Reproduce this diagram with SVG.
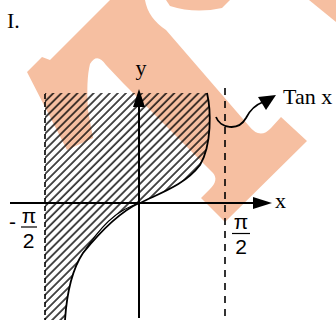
<svg xmlns="http://www.w3.org/2000/svg" width="336" height="320" viewBox="0 0 336 320">
<defs>
<style>
.wm{fill:#F6BFA1}
.ax{stroke:#000;stroke-width:2;fill:none}
.cv{stroke:#000;stroke-width:1.8;fill:none}
.thin{stroke:#000;stroke-width:1.1;fill:none}
.dl{stroke:#000;stroke-width:1.6;fill:none}
.bar{stroke:#000;stroke-width:1.2}
.serif{font-family:"Liberation Serif","Times New Roman",serif;font-size:22px;fill:#000}
.sans{font-family:"Liberation Sans",Arial,sans-serif;font-size:21px;fill:#000}
</style>
<pattern id="hatch" patternUnits="userSpaceOnUse" width="5.7" height="20" patternTransform="rotate(45)">
<line x1="1" y1="-2" x2="1" y2="22" stroke="#000" stroke-width="1.4"/>
</pattern>
</defs>
<g id="watermark">
<path class="wm" d="M27,72 L42,57 L50,60 L110,0 L145,0 Q148,18 166,30 L236,111 L249,126 Q260,140 271,128 L281,117 L307,141 L225,222 L201,198 L210,189 Q219,180 213,173 L123,83 L106,65 Q97,52 90,64 Q86,80 88,110 L93,138 L67,150 Z"/>
<path class="wm" d="M166,0 L230,0 L222,8 Q195,14 170,6 Z"/>
<path class="wm" d="M309,0 L336,0 L336,22 Z"/>
</g>
<g id="hatched-region">
<path d="M45,93 L207,93 C211,110 212,145 200,165 C185,185 160,193 140,203 C115,210 100,228 83,253 C73,268 67,290 65,320 L45,320 Z" fill="url(#hatch)"/>
<path class="thin" d="M140,203 C115,210 100,228 83,253"/>
</g>
<g id="curves">
<path class="cv" d="M207,93 C211,110 212,145 200,165 C185,185 160,193 140,203"/>
<path class="cv" d="M139,203 C120,212 100,232 83,253 C73,268 67,290 65,320"/>
</g>
<g id="asymptotes">
<line class="dl" x1="45" y1="94" x2="45" y2="320" stroke-dasharray="5,3"/>
<line class="dl" x1="225" y1="88" x2="225" y2="320" stroke-dasharray="7,6"/>
</g>
<g id="axes">
<line class="ax" x1="10" y1="203" x2="256" y2="203"/>
<polygon points="253,197 272,203 253,209"/>
<line class="ax" x1="139" y1="318" x2="139" y2="104"/>
<polygon points="133,107 139,89 145,107"/>
</g>
<g id="connectors">
<path class="cv" d="M216,117 C220,128 238,132 246,118 C250,110 255,105 263,102" stroke-width="1.6"/>
<polygon points="276,95 258,97 266,110"/>
</g>
<g id="labels">
<text class="serif" x="7" y="28">I.</text>
<text class="serif" x="141" y="75" text-anchor="middle">y</text>
<text class="serif" x="275" y="208">x</text>
<text class="serif" x="283" y="104">Tan x</text>
<text class="sans" x="9" y="229">-</text>
<text class="sans" x="29" y="223" text-anchor="middle">π</text>
<line class="bar" x1="21" y1="227" x2="37" y2="227"/>
<text class="sans" x="28.5" y="248" text-anchor="middle">2</text>
<text class="sans" x="241" y="229" text-anchor="middle">π</text>
<line class="bar" x1="232" y1="233.5" x2="250" y2="233.5"/>
<text class="sans" x="241" y="254" text-anchor="middle">2</text>
</g>
</svg>
